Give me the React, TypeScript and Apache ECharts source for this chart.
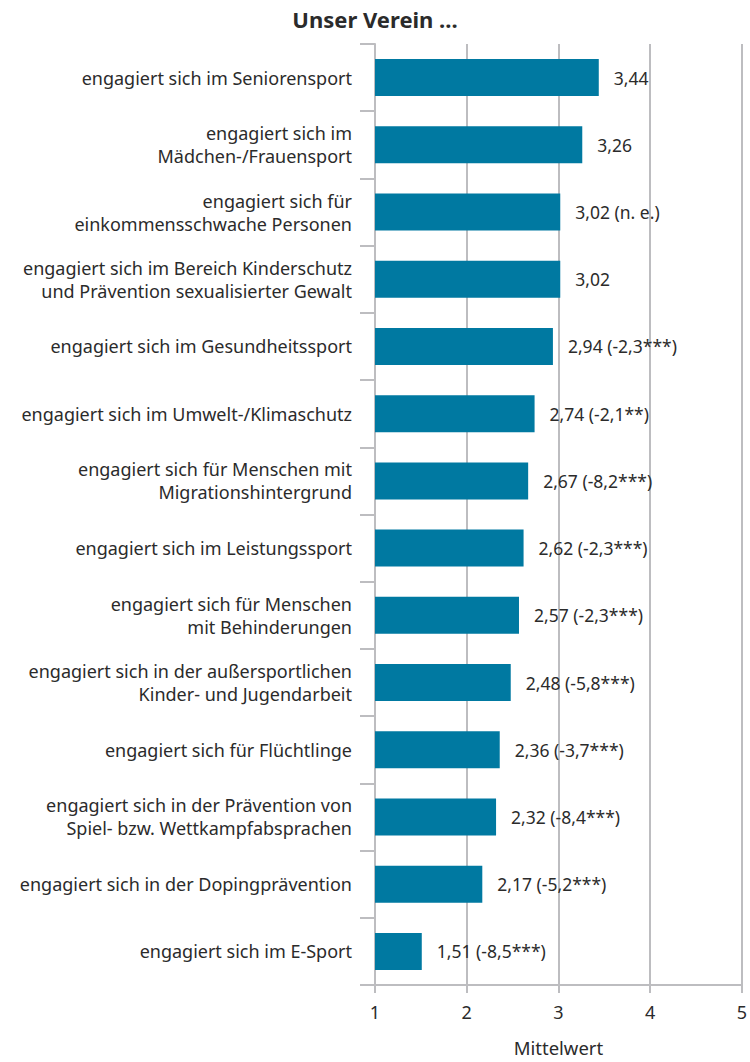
import React, { useEffect, useRef } from "react";
import * as echarts from "echarts";

const title = "Unser Verein ...";
const categories = [
  "engagiert sich im Seniorensport",
  "engagiert sich im\nMädchen-/Frauensport",
  "engagiert sich für\neinkommensschwache Personen",
  "engagiert sich im Bereich Kinderschutz\nund Prävention sexualisierter Gewalt",
  "engagiert sich im Gesundheitssport",
  "engagiert sich im Umwelt-/Klimaschutz",
  "engagiert sich für Menschen mit\nMigrationshintergrund",
  "engagiert sich im Leistungssport",
  "engagiert sich für Menschen\nmit Behinderungen",
  "engagiert sich in der außersportlichen\nKinder- und Jugendarbeit",
  "engagiert sich für Flüchtlinge",
  "engagiert sich in der Prävention von\nSpiel- bzw. Wettkampfabsprachen",
  "engagiert sich in der Dopingprävention",
  "engagiert sich im E-Sport",
];
const values = [3.44, 3.26, 3.02, 3.02, 2.94, 2.74, 2.67, 2.62, 2.57, 2.48, 2.36, 2.32, 2.17, 1.51];
const valueLabels = [
  "3,44",
  "3,26",
  "3,02 (n. e.)",
  "3,02",
  "2,94 (-2,3***)",
  "2,74 (-2,1**)",
  "2,67 (-8,2***)",
  "2,62 (-2,3***)",
  "2,57 (-2,3***)",
  "2,48 (-5,8***)",
  "2,36 (-3,7***)",
  "2,32 (-8,4***)",
  "2,17 (-5,2***)",
  "1,51 (-8,5***)",
];
const xTicks = [1, 2, 3, 4, 5];
const xAxisName = "Mittelwert";

const FONT = "'Noto Sans', sans-serif";
const GRID = "#bdbdc0";
const TEXT = "#2b2b2b";

export default function App() {
  const ref = useRef<HTMLDivElement>(null);
  useEffect(() => {
    document.body.style.margin = "0";
    document.body.style.overflow = "hidden";
    document.documentElement.style.overflow = "hidden";
    const chart = echarts.init(ref.current!, null, { renderer: "svg" });
    chart.setOption({
      animation: false,
      textStyle: { fontFamily: FONT },
      title: {
        text: title,
        left: "center",
        top: 3,
        textStyle: { fontFamily: FONT, fontWeight: "bold", fontSize: 22, color: TEXT },
      },
      grid: { left: 375, right: 3, top: 44, bottom: 71, containLabel: false },
      xAxis: {
        type: "value",
        min: xTicks[0],
        max: xTicks[xTicks.length - 1],
        interval: 1,
        axisLine: { show: true, lineStyle: { color: GRID, width: 2 } },
        axisTick: { show: true, length: 8, lineStyle: { color: GRID, width: 2 } },
        splitLine: { show: true, lineStyle: { color: GRID, width: 2 } },
        axisLabel: { color: TEXT, fontSize: 18, margin: 18, fontFamily: FONT },
        name: xAxisName,
        nameLocation: "middle",
        nameGap: 53,
        nameTextStyle: { color: TEXT, fontSize: 18.5, fontFamily: FONT },
      },
      yAxis: {
        type: "category",
        inverse: true,
        data: categories,
        axisLine: { show: true, lineStyle: { color: GRID, width: 2 } },
        axisTick: { show: true, length: 15, lineStyle: { color: GRID, width: 2 } },
        axisLabel: {
          color: TEXT,
          fontSize: 18,
          lineHeight: 23,
          margin: 23,
          align: "right",
          fontFamily: FONT,
        },
      },
      series: [
        {
          type: "bar",
          data: values,
          barWidth: 37,
          itemStyle: { color: "#0079a1" },
          label: {
            show: true,
            position: "right",
            distance: 15,
            color: TEXT,
            fontSize: 17.5,
            fontFamily: FONT,
            formatter: (p: any) => valueLabels[p.dataIndex],
          },
        },
      ],
    });
    return () => chart.dispose();
  }, []);
  return <div ref={ref} style={{ width: 750, height: 1062 }} />;
}
